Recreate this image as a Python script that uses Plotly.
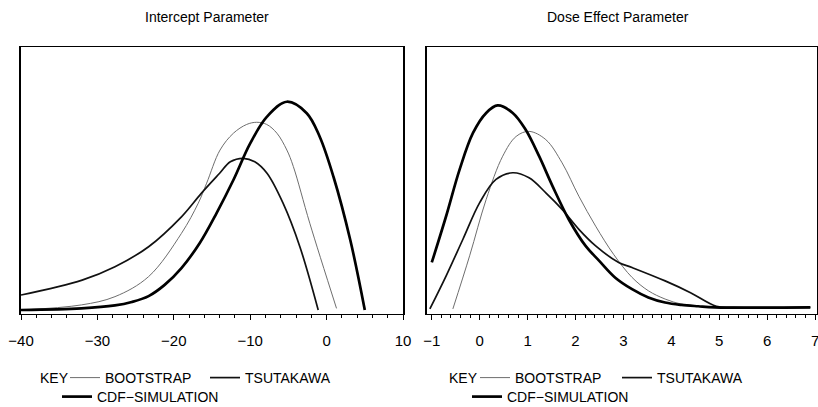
import plotly.graph_objects as go

FONT = "Liberation Sans, Arial, sans-serif"

# ---------------- Data ----------------
# Intercept parameter panel
int_boot_x = [-40, -32.1, -27.7, -23.3, -19.0, -16.8, -15.7, -13.95, -12.2, -10.46, -9.15, -7.84, -6.5, -5.2, -4.35, -2.2, 1.3]
int_boot_y = [0.015, 0.034, 0.065, 0.140, 0.302, 0.415, 0.490, 0.614, 0.677, 0.710, 0.718, 0.710, 0.677, 0.614, 0.552, 0.340, 0.021]

int_tsu_x = [-40, -32.0, -27.7, -23.3, -19.0, -16.4, -14.0, -12.6, -10.9, -9.4, -7.8, -5.7, -3.5, -1.1]
int_tsu_y = [0.071, 0.127, 0.177, 0.252, 0.364, 0.452, 0.527, 0.570, 0.583, 0.570, 0.527, 0.415, 0.252, 0.015]

int_cdf_x = [-40, -32.1, -27.7, -25.5, -23.3, -21.2, -19.0, -16.6, -14.4, -12.2, -10.0, -7.8, -5.2, -2.6, -0.9, 0.9, 3.1, 5.0]
int_cdf_y = [0.015, 0.021, 0.032, 0.045, 0.067, 0.109, 0.172, 0.266, 0.378, 0.502, 0.639, 0.739, 0.795, 0.752, 0.664, 0.514, 0.277, 0.015]

# Dose effect parameter panel
dose_boot_x = [-0.56, -0.21, 0.135, 0.48, 0.76, 1.03, 1.38, 1.72, 2.07, 2.42, 2.80, 3.18, 3.52, 3.87, 4.21, 4.56, 4.97, 6.9]
dose_boot_y = [0.019, 0.218, 0.429, 0.591, 0.665, 0.684, 0.653, 0.566, 0.441, 0.329, 0.222, 0.137, 0.087, 0.056, 0.037, 0.029, 0.025, 0.025]

dose_tsu_x = [-1.04, -0.70, -0.35, 0.0, 0.34, 0.69, 1.03, 1.38, 1.72, 2.07, 2.42, 2.90, 3.18, 3.87, 4.40, 4.94, 5.3, 6.9]
dose_tsu_y = [0.019, 0.143, 0.280, 0.417, 0.504, 0.529, 0.510, 0.454, 0.392, 0.317, 0.255, 0.193, 0.174, 0.124, 0.080, 0.029, 0.025, 0.025]

dose_cdf_x = [-1.0, -0.70, -0.42, -0.14, 0.135, 0.375, 0.69, 0.96, 1.24, 1.52, 1.86, 2.21, 2.49, 2.83, 3.18, 3.52, 3.87, 4.21, 4.56, 4.91, 6.9]
dose_cdf_y = [0.193, 0.367, 0.541, 0.678, 0.753, 0.781, 0.753, 0.690, 0.591, 0.479, 0.354, 0.255, 0.200, 0.136, 0.093, 0.062, 0.043, 0.034, 0.029, 0.025, 0.025]

int_ticks = [-40, -30, -20, -10, 0, 10]
dose_ticks = [-1, 0, 1, 2, 3, 4, 5, 6, 7]

panel_titles = ["Intercept Parameter", "Dose Effect Parameter"]
series_names = ["BOOTSTRAP", "TSUTAKAWA", "CDF\u2212SIMULATION"]

# ---------------- Styles ----------------
styles = [
    dict(color="#6e6e6e", width=1.0),
    dict(color="#111111", width=1.7),
    dict(color="#000000", width=2.7),
]

fig = go.Figure()

panels = [
    ("x", "y", [(int_boot_x, int_boot_y), (int_tsu_x, int_tsu_y), (int_cdf_x, int_cdf_y)], ["legend", "legend", "legend2"]),
    ("x2", "y2", [(dose_boot_x, dose_boot_y), (dose_tsu_x, dose_tsu_y), (dose_cdf_x, dose_cdf_y)], ["legend3", "legend3", "legend4"]),
]

for xa, ya, series, legs in panels:
    for (xs, ys), name, st, lg in zip(series, series_names, styles, legs):
        fig.add_trace(go.Scatter(
            x=xs, y=ys, mode="lines", name=name, xaxis=xa, yaxis=ya,
            line=dict(color=st["color"], width=st["width"], shape="spline", smoothing=1.0),
            legend=lg, hoverinfo="skip",
        ))

W, H = 818, 407
ydom = [1 - 314 / H, 1 - 47 / H]

axis_common = dict(
    showgrid=False, zeroline=False, showline=True, mirror=True, automargin=False,
    linecolor="black", ticks="outside", ticklen=5, tickcolor="black",
    tickfont=dict(family=FONT, size=15, color="black"),
    ticklabelstandoff=8, ticklabeloverflow="allow",
)

yaxis_common = dict(domain=ydom, range=[0, 1], showticklabels=False, ticks="",
                    showgrid=False, zeroline=False, showline=True, mirror=True,
                    automargin=False, linecolor="black", linewidth=2)

fig.update_layout(
    width=W, height=H,
    margin=dict(l=0, r=0, t=0, b=0, autoexpand=False),
    paper_bgcolor="white", plot_bgcolor="white",
    font=dict(family=FONT, size=14, color="black"),
    xaxis=dict(domain=[21 / W, 403 / W], range=[-40, 10], tickvals=int_ticks,
               minor=dict(dtick=2, ticklen=3, ticks="outside", tickcolor="black"),
               linewidth=1, anchor="y", **axis_common),
    yaxis=dict(anchor="x", **yaxis_common),
    xaxis2=dict(domain=[427 / W, 817 / W], range=[-1.1, 7.04], tickvals=dose_ticks,
                minor=dict(dtick=0.2, ticklen=3, ticks="outside", tickcolor="black"),
                linewidth=1, anchor="y2", **axis_common),
    yaxis2=dict(anchor="x2", **yaxis_common),
    showlegend=True,
    hovermode=False,
)

leg_common = dict(orientation="h", xanchor="left", yanchor="middle",
                  bgcolor="rgba(0,0,0,0)", borderwidth=0,
                  font=dict(family=FONT, size=14, color="black"),
                  itemclick=False, itemdoubleclick=False)
row1_y = 1 - 378 / H
row2_y = 1 - 397 / H
fig.update_layout(
    legend=dict(x=65 / W, y=row1_y, entrywidth=95, **leg_common),
    legend2=dict(x=57 / W, y=row2_y, **leg_common),
    legend3=dict(x=475 / W, y=row1_y, entrywidth=97, **leg_common),
    legend4=dict(x=467 / W, y=row2_y, **leg_common),
)

annotations = []
for title, cx in zip(panel_titles, [207, 618]):
    annotations.append(dict(text=title, x=cx / W, y=1 - 17 / H, xref="paper", yref="paper",
                            showarrow=False, xanchor="center", yanchor="middle",
                            font=dict(family=FONT, size=14, color="black")))
for kx in [54, 464]:
    annotations.append(dict(text="KEY", x=kx / W, y=row1_y, xref="paper", yref="paper",
                            showarrow=False, xanchor="center", yanchor="middle",
                            font=dict(family=FONT, size=14, color="black")))
fig.update_layout(annotations=annotations)

fig.write_html("out.html", config={"displayModeBar": False, "staticPlot": True},
               post_script="document.body.style.margin='0px';")
